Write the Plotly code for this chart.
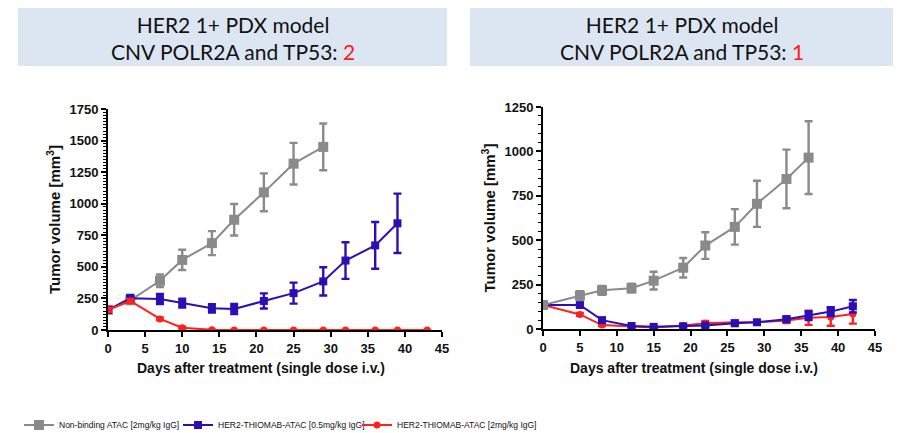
import plotly.graph_objects as go

# ---------------- data ----------------
# Left panel (CNV POLR2A and TP53: 2)
L_days_nb = [0, 3, 7, 10, 14, 17, 21, 25, 29]
L_nb = [160, 235, 390, 555, 688, 873, 1090, 1317, 1450]
L_nb_err = [20, 25, 50, 80, 95, 125, 150, 165, 185]

L_days_b05 = [0, 3, 7, 10, 14, 17, 21, 25, 29, 32, 36, 39]
L_b05 = [160, 252, 245, 212, 172, 167, 230, 292, 385, 550, 670, 845]
L_b05_err = [20, 25, 40, 35, 33, 40, 60, 83, 112, 145, 185, 235]

L_days_r2 = [0, 3, 7, 10, 14, 17, 21, 25, 29, 32, 36, 39, 43]
L_r2 = [160, 230, 88, 18, 1, 0, 0, 0, 0, 0, 0, 0, 0]
L_r2_err = [15, 15, 10, 8, 2, 1, 1, 1, 1, 1, 1, 1, 1]

# Right panel (CNV POLR2A and TP53: 1)
R_days_nb = [0, 5, 8, 12, 15, 19, 22, 26, 29, 33, 36]
R_nb = [135, 188, 218, 230, 272, 345, 470, 575, 705, 845, 965]
R_nb_err = [10, 25, 25, 25, 50, 55, 75, 100, 130, 165, 205]

R_days_b05 = [0, 5, 8, 12, 15, 19, 22, 26, 29, 33, 36, 39, 42]
R_b05 = [135, 135, 50, 17, 12, 15, 20, 32, 38, 55, 75, 98, 128]
R_b05_err = [8, 10, 8, 5, 4, 5, 6, 8, 8, 15, 25, 25, 35]

R_days_r2 = [0, 5, 8, 12, 15, 19, 22, 26, 29, 33, 36, 39, 42]
R_r2 = [135, 82, 22, 12, 8, 20, 33, 38, 38, 48, 63, 68, 85]
R_r2_err = [8, 8, 6, 4, 4, 8, 12, 12, 12, 15, 40, 50, 55]

names = ["Non-binding ATAC [2mg/kg IgG]",
         "HER2-THIOMAB-ATAC [0.5mg/kg IgG]",
         "HER2-THIOMAB-ATAC [2mg/kg IgG]"]
colors = ["#8a8a8a", "#2a0fb4", "#ff2020"]
symbols = ["square", "square", "circle"]
msizes = [10, 8, 7]

fig = go.Figure()

def add(days, vals, errs, k, xa, ya, show):
    fig.add_trace(go.Scatter(
        x=days, y=vals, mode="lines+markers", name=names[k],
        line=dict(color=colors[k], width=2),
        marker=dict(symbol=symbols[k], size=msizes[k], color=colors[k]),
        error_y=dict(type="data", array=errs, color=colors[k], thickness=2.4, width=4),
        xaxis=xa, yaxis=ya, showlegend=show,
        legend=["legend", "legend2", "legend3"][k],
    ))

add(L_days_nb, L_nb, L_nb_err, 0, "x", "y", True)
add(L_days_b05, L_b05, L_b05_err, 1, "x", "y", True)
add(L_days_r2, L_r2, L_r2_err, 2, "x", "y", True)
add(R_days_r2, R_r2, R_r2_err, 2, "x2", "y2", False)
add(R_days_b05, R_b05, R_b05_err, 1, "x2", "y2", False)
add(R_days_nb, R_nb, R_nb_err, 0, "x2", "y2", False)

# page body has an 8px margin: figure is drawn offset by (8, 8)
OFF = 8
W, H = 906 - OFF, 433 - OFF

def fx(p):
    return (p - OFF) / W

def fy(p):
    return 1 - (p - OFF) / H

tickfont = dict(family="Arial, Liberation Sans", size=13, color="#111")
xtitlefont = dict(family="Arial, Liberation Sans", size=14, color="#111")
ytitlefont = dict(family="Arial, Liberation Sans", size=15, color="#111")

def xaxis(x0, x1, anchor):
    return dict(domain=[fx(x0), fx(x1)], anchor=anchor, range=[0, 45], dtick=5, tick0=0,
                showline=True, linecolor="black", linewidth=2, ticks="outside",
                ticklen=5, tickwidth=2, tickcolor="black", showgrid=False, zeroline=False,
                tickfont=tickfont, tickprefix="<b>", ticksuffix="</b>", automargin=False)

def yaxis(y0, y1, anchor, rng, minor):
    return dict(domain=[fy(y0), fy(y1)], anchor=anchor, range=rng, dtick=250, tick0=0,
                showline=True, linecolor="black", linewidth=2, ticks="outside",
                ticklen=5, tickwidth=2, tickcolor="black", showgrid=False, zeroline=False,
                tickfont=tickfont, tickprefix="<b>", ticksuffix="</b>", automargin=False,
                minor=dict(dtick=minor, ticks="outside", ticklen=3, tickwidth=1, tickcolor="black"),
                title=dict(text="<b>Tumor volume [mm<sup>3</sup>]</b>", font=ytitlefont, standoff=5))

fig.update_layout(
    width=W, height=H, margin=dict(l=0, r=0, t=0, b=0, autoexpand=False),
    paper_bgcolor="white", plot_bgcolor="white",
    xaxis=xaxis(108, 442, "y"),
    yaxis=yaxis(330, 109, "x", [0, 1750], 25),
    xaxis2=xaxis(543, 875, "y2"),
    yaxis2=yaxis(329, 107, "x2", [0, 1250], 50),
)

# x-axis titles (slightly left of plot centre, as in the reference)
for cx in [261, 694]:
    fig.add_annotation(xref="paper", yref="paper", x=fx(cx), y=fy(368),
                       text="<b>Days after treatment (single dose i.v.)</b>", showarrow=False,
                       font=xtitlefont, xanchor="center", yanchor="middle")

legfont = dict(family="Arial, Liberation Sans", size=8.5, color="#111")
for key, xpx in [("legend", 19), ("legend2", 178), ("legend3", 357)]:
    fig.update_layout(**{key: dict(x=fx(xpx), y=fy(425), xanchor="left", yanchor="middle",
                                   orientation="h", font=legfont, bgcolor="rgba(0,0,0,0)",
                                   itemwidth=30)})

# title boxes
for x0, x1, num in [(18, 447, "2"), (470, 893, "1")]:
    fig.add_shape(type="rect", xref="paper", yref="paper",
                  x0=fx(x0), x1=fx(x1), y0=fy(66), y1=fy(7),
                  fillcolor="#dce6f2", line=dict(width=0), layer="below")
    fig.add_annotation(xref="paper", yref="paper", x=fx((x0 + x1) / 2), y=fy(38),
                       text="HER2 1+ PDX model<br>CNV POLR2A and TP53: <span style='color:#ff1a1a'>" + num + "</span>",
                       showarrow=False, font=dict(family="Lato, Open Sans", size=21, color="#111"),
                       align="center", xanchor="center", yanchor="middle")

fig.write_html("out.html")
